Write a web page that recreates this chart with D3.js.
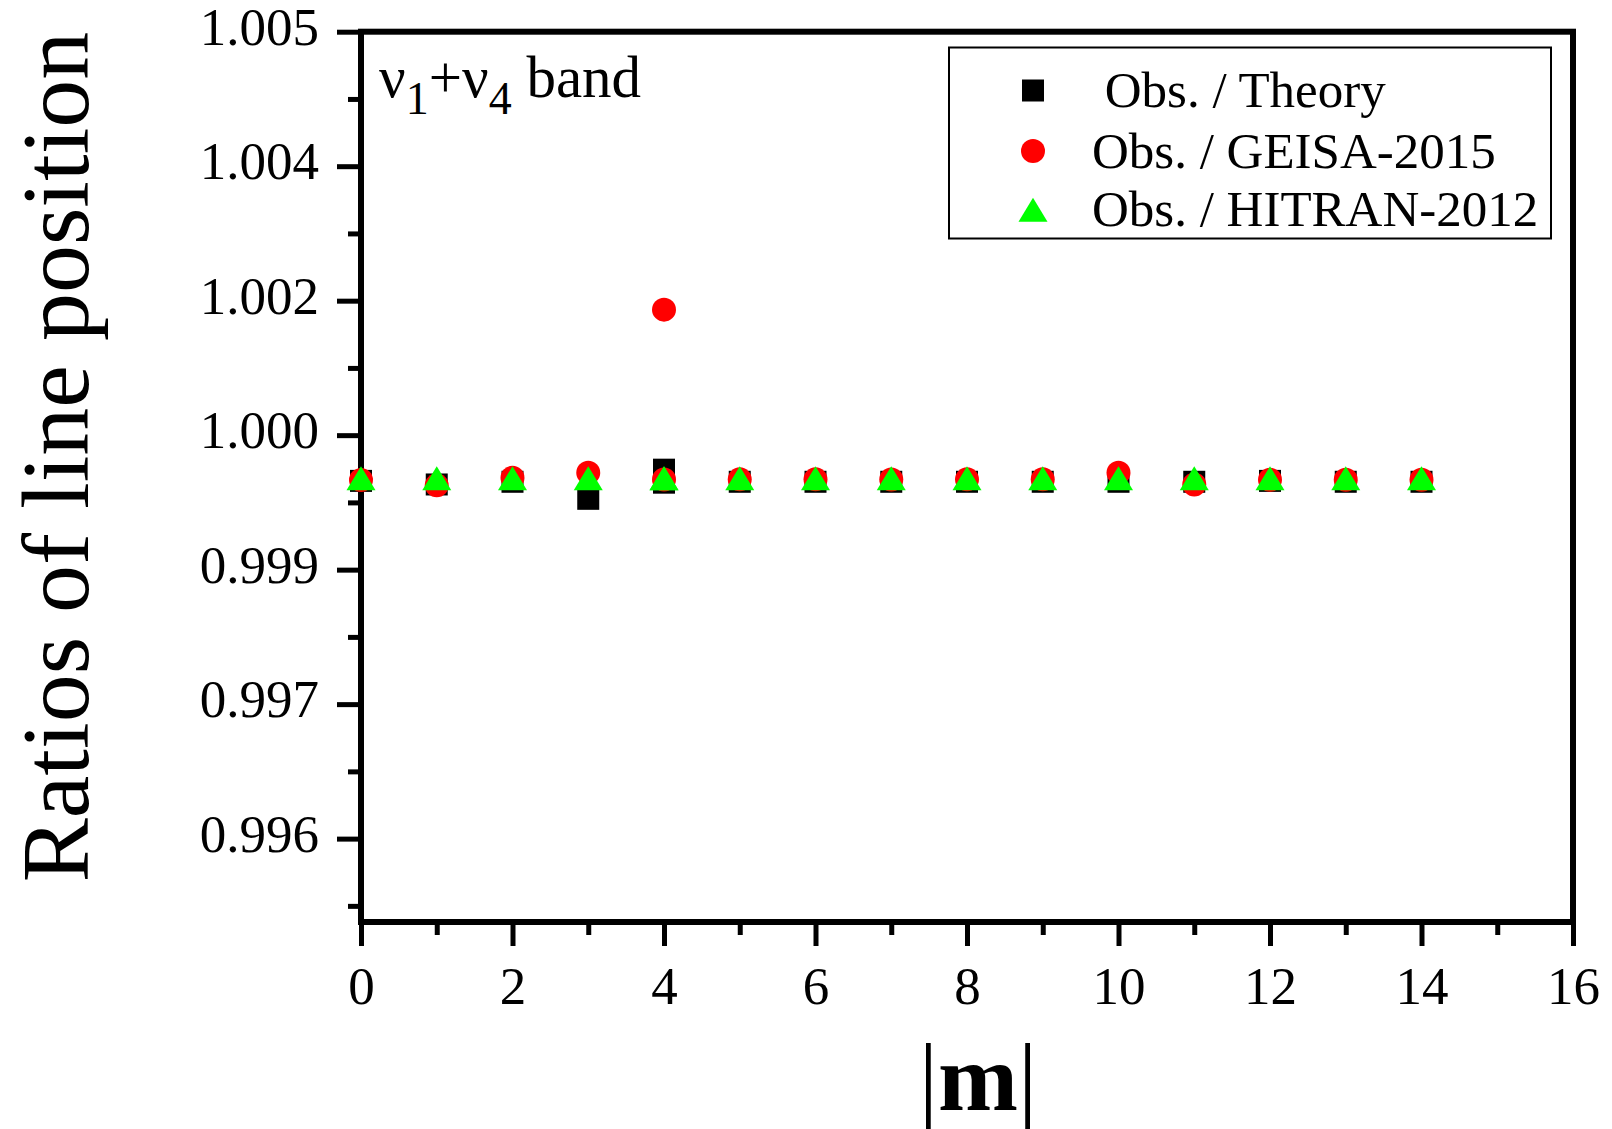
<!DOCTYPE html>
<html>
<head>
<meta charset="utf-8">
<script src="https://cdn.jsdelivr.net/npm/d3@7"></script>
<style>
  html, body { margin: 0; padding: 0; background: #fff; }
  svg { display: block; font-family: "Liberation Serif", "Times New Roman", serif; }
</style>
</head>
<body>
<svg id="chart" width="1612" height="1129"></svg>
<script>
// ---------------- data ----------------
const mValues   = [0, 1, 2, 3, 4, 4, 5, 6, 7, 8, 9, 10, 11, 12, 13, 14];
const obsTheory = [0.99999, 0.99995, 0.99998, 0.99979, 1.000115, 0.99997, 0.99998, 0.99998, 0.99998, 0.99998, 0.99998, 0.99998, 0.99998, 0.99999, 0.99998, 0.99998];
const obsGeisa  = [1.0, 0.99994, 1.000025, 1.00008, 1.0019, 1.000005, 1.000007, 1.000007, 1.000005, 1.000007, 1.000007, 1.00008, 0.99995, 1.000002, 1.000002, 1.000002];
const obsHitran = [1.00002, 1.00002, 1.00002, 1.00002, 1.00002, 1.00002, 1.00002, 1.00002, 1.00002, 1.00002, 1.00002, 1.00002, 1.00002, 1.00002, 1.00002, 1.00002];

const yTickValues = [1.005, 1.0035, 1.002, 1.0005, 0.999, 0.9975, 0.996];
const yTickLabels = ["1.005", "1.004", "1.002", "1.000", "0.999", "0.997", "0.996"];
const yMinorValues = [1.00425, 1.00275, 1.00125, 0.99975, 0.99825, 0.99675, 0.99525];
const xTickValues = [0, 2, 4, 6, 8, 10, 12, 14, 16];
const xMinorValues = [1, 3, 5, 7, 9, 11, 13, 15];
const seriesNames = [" Obs. / Theory", "Obs. / GEISA-2015", "Obs. / HITRAN-2012"];

// ---------------- layout ----------------
const svg = d3.select("#chart");
const pLeft = 361, pRight = 1573, pTop = 31.7, pBottom = 922;
const x = d3.scaleLinear().domain([0, 16]).range([pLeft, pRight]);
const y = d3.scaleLinear().domain([0.99507, 1.005]).range([pBottom, pTop]);

const fontTick = 53;
const majorLen = 24, minorLen = 13;

// y axis major
const gy = svg.append("g").attr("transform", `translate(${pLeft},0)`)
  .call(d3.axisLeft(y).tickValues(yTickValues).tickSize(majorLen).tickPadding(18)
    .tickFormat((d, i) => yTickLabels[i]));
gy.select(".domain").remove();
gy.selectAll(".tick line").attr("stroke", "#000").attr("stroke-width", 5);
gy.selectAll(".tick text").attr("font-size", fontTick).attr("font-family", "Liberation Serif, Times New Roman, serif").attr("fill", "#000").attr("dy", "0.24em");

const gym = svg.append("g").attr("transform", `translate(${pLeft},0)`)
  .call(d3.axisLeft(y).tickValues(yMinorValues).tickSize(minorLen).tickFormat(""));
gym.select(".domain").remove();
gym.selectAll(".tick line").attr("stroke", "#000").attr("stroke-width", 5);

// x axis major
const gx = svg.append("g").attr("transform", `translate(0,${pBottom})`)
  .call(d3.axisBottom(x).tickValues(xTickValues).tickSize(majorLen).tickPadding(20)
    .tickFormat(d3.format("d")));
gx.select(".domain").remove();
gx.selectAll(".tick line").attr("stroke", "#000").attr("stroke-width", 5);
gx.selectAll(".tick text").attr("font-size", fontTick).attr("font-family", "Liberation Serif, Times New Roman, serif").attr("fill", "#000");

const gxm = svg.append("g").attr("transform", `translate(0,${pBottom})`)
  .call(d3.axisBottom(x).tickValues(xMinorValues).tickSize(minorLen).tickFormat(""));
gxm.select(".domain").remove();
gxm.selectAll(".tick line").attr("stroke", "#000").attr("stroke-width", 5);

// frame
svg.append("rect")
  .attr("x", pLeft).attr("y", pTop)
  .attr("width", pRight - pLeft).attr("height", pBottom - pTop)
  .attr("fill", "none").attr("stroke", "#000").attr("stroke-width", 6);

// ---------------- markers ----------------
const sq = 22, circR = 12, triW = 29, triH = 24;
const triPath = `M0,${-triH/2}L${triW/2},${triH/2}L${-triW/2},${triH/2}Z`;

const plot = svg.append("g");
plot.selectAll("rect.theory").data(mValues).join("rect")
  .attr("class", "theory")
  .attr("x", d => x(d) - sq / 2)
  .attr("y", (d, i) => y(obsTheory[i]) - sq / 2)
  .attr("width", sq).attr("height", sq).attr("fill", "#000");

plot.selectAll("circle.geisa").data(mValues).join("circle")
  .attr("class", "geisa")
  .attr("cx", d => x(d))
  .attr("cy", (d, i) => y(obsGeisa[i]))
  .attr("r", circR).attr("fill", "#ff0000");

plot.selectAll("path.hitran").data(mValues).join("path")
  .attr("class", "hitran")
  .attr("d", triPath)
  .attr("transform", (d, i) => `translate(${x(d)},${y(obsHitran[i])})`)
  .attr("fill", "#00ff00");

// ---------------- legend ----------------
const lg = svg.append("g");
lg.append("rect").attr("x", 949).attr("y", 47.5).attr("width", 602).attr("height", 191)
  .attr("fill", "#fff").attr("stroke", "#000").attr("stroke-width", 2);
const legY = [90.5, 151, 209.7];
const symX = 1033;
lg.append("rect").attr("x", symX - sq / 2).attr("y", legY[0] - sq / 2).attr("width", sq).attr("height", sq).attr("fill", "#000");
lg.append("circle").attr("cx", symX).attr("cy", legY[1]).attr("r", circR).attr("fill", "#ff0000");
lg.append("path").attr("d", triPath).attr("transform", `translate(${symX},${legY[2]})`).attr("fill", "#00ff00");
lg.selectAll("text.leg").data(seriesNames).join("text")
  .attr("class", "leg")
  .attr("x", 1092).attr("y", (d, i) => legY[i] + 16.5)
  .style("white-space", "pre")
  .attr("font-size", 51).attr("fill", "#000")
  .text(d => d);

// ---------------- annotation ----------------
const ann = svg.append("text").attr("x", 379).attr("y", 97).attr("font-size", 59).attr("fill", "#000");
ann.append("tspan").text("ν");
ann.append("tspan").attr("font-size", 46).attr("dy", 17).text("1");
ann.append("tspan").attr("dy", -17).text("+ν");
ann.append("tspan").attr("font-size", 46).attr("dy", 17).text("4");
ann.append("tspan").attr("dy", -17).style("white-space", "pre").text(" band");

// ---------------- axis titles ----------------
svg.append("text")
  .attr("transform", "translate(88,457) rotate(-90)")
  .attr("text-anchor", "middle")
  .attr("font-size", 96).attr("fill", "#000")
  .text("Ratios of line position");

const xt = svg.append("text").attr("x", 978).attr("y", 1110)
  .attr("text-anchor", "middle").attr("font-size", 96).attr("fill", "#000");
xt.append("tspan").text("|");
xt.append("tspan").attr("font-weight", "bold").text("m");
xt.append("tspan").text("|");
</script>
</body>
</html>
